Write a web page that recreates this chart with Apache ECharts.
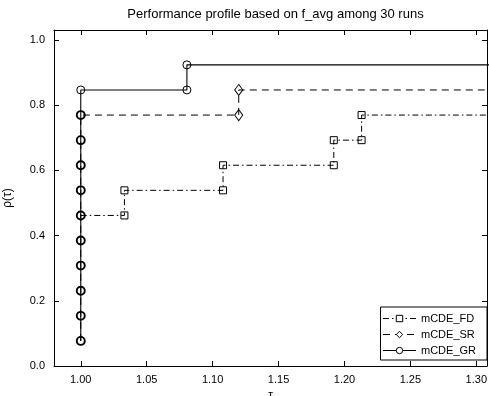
<!DOCTYPE html>
<html>
<head>
<meta charset="utf-8">
<script src="https://cdn.jsdelivr.net/npm/echarts@6/dist/echarts.min.js"></script>
<style>
html,body{margin:0;padding:0;background:#fff;}
#c{width:489px;height:396px;}
</style>
</head>
<body>
<div id="c"></div>
<script>
const titleText = "Performance profile based on f_avg among 30 runs";
const seriesNames = ["mCDE_FD", "mCDE_SR", "mCDE_GR"];
const xTicks = [1.00, 1.05, 1.10, 1.15, 1.20, 1.25, 1.30];
const yTicks = [0.0, 0.2, 0.4, 0.6, 0.8, 1.0];

// step vertices (tau, rho) for each solver
const fdTau = [1.000, 1.0331, 1.0331, 1.1079, 1.1079, 1.1919, 1.1919, 1.2130, 1.2130];
const fdRho = [0.4615, 0.4615, 0.5385, 0.5385, 0.6154, 0.6154, 0.6923, 0.6923, 0.7692];
const srTau = [1.000, 1.000, 1.000, 1.000, 1.000, 1.000, 1.000, 1.000, 1.000, 1.000, 1.1198, 1.1198];
const srRho = [0.0769, 0.1538, 0.2308, 0.3077, 0.3846, 0.4615, 0.5385, 0.6154, 0.6923, 0.7692, 0.7692, 0.8462];
const grTau = [1.000, 1.000, 1.000, 1.000, 1.000, 1.000, 1.000, 1.000, 1.000, 1.000, 1.000, 1.0805, 1.0805];
const grRho = [0.0769, 0.1538, 0.2308, 0.3077, 0.3846, 0.4615, 0.5385, 0.6154, 0.6923, 0.7692, 0.8462, 0.8462, 0.9231];
const tauEnd = 1.35;

const X_MIN = 0.9797, X_MAX = 1.3081, Y_MIN = 0, Y_MAX = 1.03;
const FONT = "Liberation Sans";

// points at tau=1 shared with the SR series (overlapping markers look bolder)
function sharedWithSR(t, r) {
  return srTau.some((st, i) => st === t && srRho[i] === r);
}

function build(taus, rhos, hideAtOne, thickShared) {
  const d = taus.map((t, i) => {
    const item = { value: [t, rhos[i]] };
    if (t === 1 && hideAtOne) item.symbol = 'none';
    if (thickShared && t === 1 && sharedWithSR(t, rhos[i])) item.itemStyle = { borderWidth: 1.9 };
    return item;
  });
  d.push({ value: [tauEnd, rhos[rhos.length - 1]], symbol: 'none' });
  return d;
}

const markerStyle = { color: 'rgba(255,255,255,0)', borderColor: '#000', borderWidth: 1 };

const chart = echarts.init(document.getElementById('c'), null, { renderer: 'canvas' });
const axisCommon = {
  axisLine: { show: true, onZero: false, lineStyle: { color: '#000', width: 1 } },
  splitLine: { show: false }
};
chart.setOption({
  animation: false,
  backgroundColor: '#fff',
  title: {
    text: titleText, left: 270.5, textAlign: 'center', top: 3,
    textStyle: { fontFamily: FONT, fontSize: 13, fontWeight: 'normal', color: '#000' }
  },
  grid: { left: 54, right: 2, top: 30, bottom: 30, containLabel: false, outerBoundsMode: 'none' },
  legend: {
    data: seriesNames, orient: 'vertical', right: 2, bottom: 36,
    itemWidth: 33, itemHeight: 8, itemGap: 5,
    padding: [6, 11, 4, 2],
    borderColor: '#000', borderWidth: 1, backgroundColor: '#fff',
    lineStyle: { width: 1 },
    itemStyle: { borderWidth: 1, color: '#fff', borderColor: '#000' },
    textStyle: { fontFamily: FONT, fontSize: 11, color: '#000' }
  },
  xAxis: [
    Object.assign({}, axisCommon, {
      type: 'value', min: X_MIN, max: X_MAX, position: 'bottom',
      name: 'τ', nameLocation: 'middle', nameGap: 24,
      nameTextStyle: { fontFamily: FONT, fontSize: 12, color: '#000' },
      axisTick: { show: true, inside: true, length: 5, customValues: xTicks, lineStyle: { color: '#000' } },
      axisLabel: { show: true, customValues: xTicks, margin: 8, formatter: v => v.toFixed(2),
        fontFamily: FONT, fontSize: 11, color: '#000' }
    }),
    Object.assign({}, axisCommon, {
      type: 'value', min: X_MIN, max: X_MAX, position: 'top',
      axisTick: { show: true, inside: true, length: 5, customValues: xTicks, lineStyle: { color: '#000' } },
      axisLabel: { show: false }
    })
  ],
  yAxis: [
    Object.assign({}, axisCommon, {
      type: 'value', min: Y_MIN, max: Y_MAX, position: 'left',
      name: 'ρ(τ)', nameLocation: 'middle', nameGap: 40, nameRotate: 90,
      nameTextStyle: { fontFamily: FONT, fontSize: 12, color: '#000' },
      axisTick: { show: true, inside: true, length: 5, customValues: yTicks, lineStyle: { color: '#000' } },
      axisLabel: { show: true, customValues: yTicks, margin: 9, formatter: v => v.toFixed(1),
        fontFamily: FONT, fontSize: 11, color: '#000' }
    }),
    Object.assign({}, axisCommon, {
      type: 'value', min: Y_MIN, max: Y_MAX, position: 'right',
      axisTick: { show: true, inside: true, length: 5, customValues: yTicks, lineStyle: { color: '#000' } },
      axisLabel: { show: false }
    })
  ],
  series: [
    {
      name: seriesNames[0], type: 'line', data: build(fdTau, fdRho, true, false),
      symbol: 'rect', symbolSize: 7, showAllSymbol: true, clip: true,
      lineStyle: { color: '#000', width: 1, type: [6, 3, 1.5, 3] },
      itemStyle: markerStyle, z: 2
    },
    {
      name: seriesNames[1], type: 'line', data: build(srTau, srRho, true, false),
      symbol: 'diamond', symbolSize: [8, 11], showAllSymbol: true, clip: true,
      lineStyle: { color: '#000', width: 1, type: [7, 5] },
      itemStyle: markerStyle, z: 3
    },
    {
      name: seriesNames[2], type: 'line', data: build(grTau, grRho, false, true),
      symbol: 'circle', symbolSize: 8, showAllSymbol: true, clip: true,
      lineStyle: { color: '#000', width: 1.1, type: 'solid' },
      itemStyle: markerStyle, z: 4
    }
  ]
});
</script>
</body>
</html>
